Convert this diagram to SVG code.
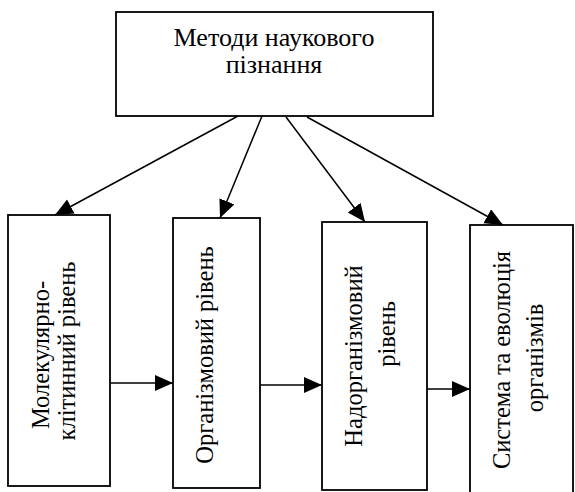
<svg xmlns="http://www.w3.org/2000/svg" width="575" height="492" viewBox="0 0 575 492">
<defs>
<marker id="ah" markerUnits="userSpaceOnUse" markerWidth="19" markerHeight="17" refX="18" refY="8" orient="auto">
<path d="M0,0 L18,8 L0,16 Z" fill="#000"/>
</marker>
<style>
.box{fill:#fff;stroke:#000;stroke-width:1.8}
.t{font-family:"Liberation Serif","Times New Roman",serif;font-size:24.5px;fill:#000;text-anchor:middle}
.tt{font-size:26px}
.c{stroke:#000;stroke-width:1.5;fill:none;marker-end:url(#ah)}
</style>
</defs>
<rect width="575" height="492" fill="#fff"/>
<g id="top">
<rect class="box" x="116" y="12" width="317" height="104"/>
<text class="t tt" x="274" y="46">Методи наукового</text>
<text class="t tt" x="274" y="73">пізнання</text>
</g>
<g id="n1">
<rect class="box" x="8" y="215" width="102" height="271"/>
<text class="t" transform="translate(49,355) rotate(-90)">Молекулярно-</text>
<text class="t" transform="translate(75,351) rotate(-90)">клітинний рівень</text>
</g>
<g id="n2">
<rect class="box" x="173" y="218" width="87" height="270"/>
<text class="t" transform="translate(213,355) rotate(-90)">Організмовий рівень</text>
</g>
<g id="n3">
<rect class="box" x="322" y="222" width="105" height="268"/>
<text class="t" transform="translate(362,356) rotate(-90)">Надорганізмовий</text>
<text class="t" transform="translate(395,334) rotate(-90)">рівень</text>
</g>
<g id="n4">
<rect class="box" x="470" y="225" width="103" height="272"/>
<text class="t" transform="translate(510,360) rotate(-90)">Система та еволюція</text>
<text class="t" transform="translate(543,358) rotate(-90)">організмів</text>
</g>
<g id="connectors">
<line class="c" x1="238" y1="116" x2="55" y2="215"/>
<line class="c" x1="262" y1="116" x2="220" y2="218"/>
<line class="c" x1="286" y1="117" x2="365" y2="222"/>
<line class="c" x1="307" y1="117" x2="503" y2="225"/>
<line class="c" x1="110" y1="383" x2="173" y2="383"/>
<line class="c" x1="260" y1="385" x2="322" y2="385"/>
<line class="c" x1="427" y1="389" x2="470" y2="389"/>
</g>
</svg>
